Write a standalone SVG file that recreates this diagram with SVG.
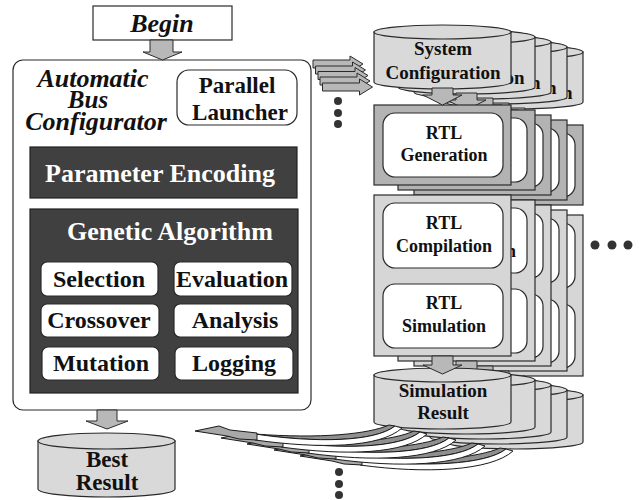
<svg xmlns="http://www.w3.org/2000/svg" xmlns:xlink="http://www.w3.org/1999/xlink" width="641" height="500" viewBox="0 0 641 500">
<style>
.t{font-family:"Liberation Serif","Times New Roman",serif;font-weight:bold;fill:#111;text-anchor:middle}
.it{font-style:italic}
.wt{fill:#fff}
.box{fill:#fff;stroke:#2a2a2a;stroke-width:1.2}
.dark{fill:#404040;stroke:#222;stroke-width:1.2}
.cyl{fill:#d9d9d9;stroke:#2a2a2a;stroke-width:1.2}
.gen{fill:#b3b3b3;stroke:#2a2a2a;stroke-width:1.2}
.comp{fill:#d6d6d6;stroke:#2a2a2a;stroke-width:1.2}
.arr{fill:#b8b8b8;stroke:#2a2a2a;stroke-width:1}
.hd{fill:#a8a8a8;stroke:#1a1a1a;stroke-width:1}
.rib{fill:#fff;stroke:#1a1a1a;stroke-width:1}
.cre{fill:#8f8f8f;stroke:#1a1a1a;stroke-width:1}
.dot{fill:#333}
</style>
<defs>
  <g id="sysL">
    <path class="cyl" d="M374,32 V82 A68.5,7 0 0 0 511,82 V32 Z"/>
    <ellipse class="cyl" cx="442.5" cy="32" rx="68.5" ry="7"/>
    <text class="t" x="443" y="55" font-size="19">System</text>
    <text class="t" x="443" y="79" font-size="19">Configuration</text>
  </g>
  <path id="dnA" class="arr" d="M432,88 H453 V95 H462 L442.5,105 L423,95 H432 Z"/>
  <g id="genL">
    <rect class="gen" x="374" y="105" width="137" height="80"/>
    <rect class="box" x="383" y="113" width="120" height="64" rx="12"/>
    <text class="t" x="444" y="139" font-size="18">RTL</text>
    <text class="t" x="444" y="161" font-size="18">Generation</text>
  </g>
  <g id="compL">
    <rect class="comp" x="374" y="195" width="137" height="161"/>
    <rect class="box" x="383" y="203" width="120" height="65" rx="12"/>
    <text class="t" x="444" y="229" font-size="18">RTL</text>
    <text class="t" x="444" y="252" font-size="18">Compilation</text>
    <rect class="box" x="383" y="284" width="120" height="64" rx="12"/>
    <text class="t" x="444" y="309" font-size="18">RTL</text>
    <text class="t" x="444" y="332" font-size="18">Simulation</text>
  </g>
  <path id="dnB" class="arr" d="M432,356 H453 V365 H462 L442.5,374 L423,365 H432 Z"/>
  <g id="simL">
    <path class="cyl" d="M374,375 V422 A68.5,7 0 0 0 511,422 V375 Z"/>
    <ellipse class="cyl" cx="442.5" cy="375" rx="68.5" ry="7"/>
    <text class="t" x="443" y="397" font-size="19">Simulation</text>
    <text class="t" x="443" y="419" font-size="19">Result</text>
  </g>
  <path id="pa" class="arr" d="M0,-4 H37 V-8 L50,0 L37,8 V4 H0 Z"/>
</defs>

<g id="begin">
  <rect class="box" x="93" y="6" width="139" height="34"/>
  <text class="t it" x="162" y="32" font-size="26">Begin</text>
</g>

<g id="bus-configurator">
  <rect class="box" x="13" y="60" width="298" height="350" rx="10"/>
  <text class="t it" x="93" y="87" font-size="26">Automatic</text>
  <text class="t it" x="88" y="108" font-size="25">Bus</text>
  <text class="t it" x="96" y="130" font-size="26">Configurator</text>
  <g id="parallel-launcher">
    <rect class="box" x="177" y="70" width="120" height="55" rx="12"/>
    <text class="t" x="237" y="93" font-size="23">Parallel</text>
    <text class="t" x="240" y="120" font-size="23">Launcher</text>
  </g>
  <g id="parameter-encoding">
    <rect class="dark" x="30" y="147" width="267" height="51"/>
    <text class="t wt" x="160" y="182" font-size="26">Parameter Encoding</text>
  </g>
  <g id="genetic-algorithm">
    <rect class="dark" x="30" y="209" width="268" height="184"/>
    <text class="t wt" x="170" y="240" font-size="26">Genetic Algorithm</text>
    <g id="selection"><rect class="box" x="41" y="262" width="117" height="34" rx="6"/><text class="t" x="99" y="287" font-size="24">Selection</text></g>
    <g id="evaluation"><rect class="box" x="174" y="262" width="118" height="34" rx="6"/><text class="t" x="232" y="287" font-size="24">Evaluation</text></g>
    <g id="crossover"><rect class="box" x="41" y="304" width="118" height="33" rx="6"/><text class="t" x="99" y="328" font-size="24">Crossover</text></g>
    <g id="analysis"><rect class="box" x="174" y="304" width="118" height="33" rx="6"/><text class="t" x="235" y="328" font-size="24">Analysis</text></g>
    <g id="mutation"><rect class="box" x="42" y="347" width="117" height="33" rx="6"/><text class="t" x="101" y="371" font-size="24">Mutation</text></g>
    <g id="logging"><rect class="box" x="175" y="347" width="118" height="33" rx="6"/><text class="t" x="234" y="371" font-size="24">Logging</text></g>
  </g>
</g>

<g id="best-result">
  <path class="cyl" d="M38,441 V489 A68.5,8 0 0 0 175,489 V441 Z"/>
  <ellipse class="cyl" cx="106.5" cy="441" rx="68.5" ry="8"/>
  <text class="t" x="107" y="467" font-size="23">Best</text>
  <text class="t" x="107" y="490" font-size="23">Result</text>
</g>

<g id="system-configuration">
  <use xlink:href="#sysL" transform="translate(72,20)"/>
  <use xlink:href="#sysL" transform="translate(56,15)"/>
  <use xlink:href="#sysL" transform="translate(40,10)"/>
  <use xlink:href="#sysL" transform="translate(24,5)"/>
  <use xlink:href="#sysL"/>
  <use xlink:href="#dnA" transform="translate(72,20)"/>
  <use xlink:href="#dnA" transform="translate(56,15)"/>
  <use xlink:href="#dnA" transform="translate(40,10)"/>
  <use xlink:href="#dnA" transform="translate(24,5)"/>
</g>

<g id="rtl-generation">
  <use xlink:href="#genL" transform="translate(72,20)"/>
  <use xlink:href="#genL" transform="translate(56,15)"/>
  <use xlink:href="#genL" transform="translate(40,10)"/>
  <use xlink:href="#genL" transform="translate(24,5)"/>
  <use xlink:href="#genL"/>
</g>

<g id="rtl-compilation-simulation">
  <use xlink:href="#compL" transform="translate(72,20)"/>
  <use xlink:href="#compL" transform="translate(56,15)"/>
  <use xlink:href="#compL" transform="translate(40,10)"/>
  <use xlink:href="#compL" transform="translate(24,5)"/>
  <use xlink:href="#compL"/>
</g>

<g id="simulation-result">
  <use xlink:href="#simL" transform="translate(72,20)"/>
  <use xlink:href="#dnB" transform="translate(72,20)"/>
  <use xlink:href="#simL" transform="translate(56,15)"/>
  <use xlink:href="#dnB" transform="translate(56,15)"/>
  <use xlink:href="#simL" transform="translate(40,10)"/>
  <use xlink:href="#dnB" transform="translate(40,10)"/>
  <use xlink:href="#simL" transform="translate(24,5)"/>
  <use xlink:href="#dnB" transform="translate(24,5)"/>
  <use xlink:href="#simL"/>
</g>

<g id="connectors">
  <path class="arr" d="M150,40 H173 V52 H182 L162.5,60 L143,52 H150 Z"/>
  <path class="arr" d="M97,410 H117 V421 H128 L107,429 L86,421 H97 Z"/>
  <use xlink:href="#dnA"/>
  <use xlink:href="#dnB"/>
  <use xlink:href="#pa" transform="translate(313,64)"/>
  <use xlink:href="#pa" transform="translate(315.5,70)"/>
  <use xlink:href="#pa" transform="translate(318,75.5)"/>
  <use xlink:href="#pa" transform="translate(320,81)"/>
  <use xlink:href="#pa" transform="translate(322.5,87)"/>
  <circle class="dot" cx="338" cy="101" r="4"/>
  <circle class="dot" cx="338" cy="113" r="4"/>
  <circle class="dot" cx="338" cy="124" r="4"/>
  <circle class="dot" cx="595" cy="245" r="4.5"/>
  <circle class="dot" cx="612" cy="245" r="4.5"/>
  <circle class="dot" cx="628" cy="245" r="4.5"/>

  <path class="cre" d="M500,448 C480,457 425,464 360,459 C420,468 486,465 506,449 Z"/>
  <path class="rib" d="M360,459 C420,468 486,465 506,449 L513,451 C491,471 425,474 360,465 Z"/>
  <path class="hd" d="M300,456 L324,451 L335,455 L362,458 L362,465 L344,464 L332,461 Z"/>

  <path class="cre" d="M472,443 C452,452 399,458 334,453 C394,462 458,460 478,444 Z"/>
  <path class="rib" d="M334,453 C394,462 458,460 478,444 L485,446 C463,466 399,468 334,459 Z"/>
  <path class="hd" d="M274,450 L298,445 L309,449 L336,452 L336,459 L318,458 L306,455 Z"/>

  <path class="cre" d="M443,437 C423,446 372,452 307,447 C367,456 429,454 449,438 Z"/>
  <path class="rib" d="M307,447 C367,456 429,454 449,438 L456,440 C434,460 372,462 307,453 Z"/>
  <path class="hd" d="M247,444 L271,439 L282,443 L309,446 L309,453 L291,452 L279,449 Z"/>

  <path class="cre" d="M414,431 C394,440 346,446 281,441 C341,450 400,448 420,432 Z"/>
  <path class="rib" d="M281,441 C341,450 400,448 420,432 L427,434 C405,454 346,456 281,447 Z"/>
  <path class="hd" d="M221,438 L245,433 L256,437 L283,440 L283,447 L265,446 L253,443 Z"/>

  <path class="cre" d="M389,425 C369,434 320,439 255,434 C315,443 375,442 395,426 Z"/>
  <path class="rib" d="M255,434 C315,443 375,442 395,426 L402,428 C380,448 320,449 255,440 Z"/>
  <path class="hd" d="M195,431 L219,426 L230,430 L257,433 L257,440 L239,439 L227,436 Z"/>

  <circle class="dot" cx="339" cy="472" r="4"/>
  <circle class="dot" cx="339" cy="484" r="4"/>
  <circle class="dot" cx="339" cy="495" r="4"/>
</g>
</svg>
